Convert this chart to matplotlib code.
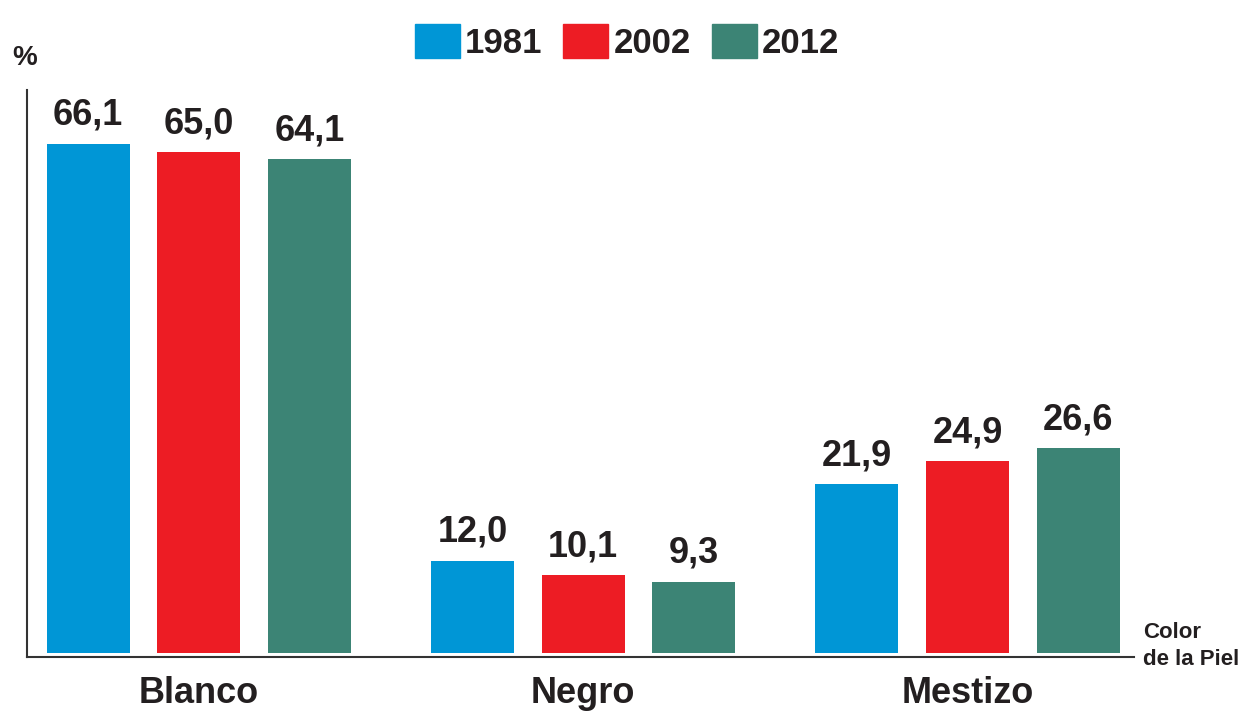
import matplotlib.pyplot as plt
import numpy as np
from matplotlib.patches import Patch

categories = ['Blanco', 'Negro', 'Mestizo']
years = ['1981', '2002', '2012']
v1981 = [66.1, 12.0, 21.9]
v2002 = [65.0, 10.1, 24.9]
v2012 = [64.1, 9.3, 26.6]
colors = ['#0096d6', '#ed1c24', '#3c8475']
ink = '#231f20'

plt.rcParams['font.family'] = ['Liberation Sans Narrow', 'Liberation Sans', 'DejaVu Sans']

fig = plt.figure(figsize=(12.48, 7.14), dpi=100)
ax = fig.add_axes([27 / 1248, 57 / 714, (1134 - 27) / 1248, (657 - 90) / 714])

x = np.arange(len(categories))
width = 0.216
offset = 0.288
for i, (vals, col) in enumerate(zip([v1981, v2002, v2012], colors)):
    pos = x + (i - 1) * offset
    bars = ax.bar(pos, vals, width=width, color=col)
    for b, v in zip(bars, vals):
        ax.annotate(f'{v:.1f}'.replace('.', ','), (b.get_x() + b.get_width() / 2, v),
                    xytext=(0, 8), textcoords='offset points', ha='center', va='bottom',
                    fontsize=26, fontweight='bold', color=ink)

ax.set_xlim(-0.447, 2.433)
ax.set_ylim(-0.5, 73.1)
ax.set_xticks(x)
ax.set_xticklabels(categories, fontsize=26, fontweight='bold', color=ink)
ax.tick_params(axis='x', length=0, pad=14)
ax.set_yticks([])
for s in ['top', 'right']:
    ax.spines[s].set_visible(False)
for s in ['left', 'bottom']:
    ax.spines[s].set_color('#333333')
    ax.spines[s].set_linewidth(1.5)

fig.text(12 / 1248, 1 - 58 / 714, '%', fontsize=20, fontweight='bold', color=ink, va='center')
fig.text(1143 / 1248, 1 - 646 / 714, 'Color\nde la Piel', fontsize=16, fontweight='bold',
         color=ink, va='center', ha='left', linespacing=1.35)

handles = [Patch(color=c) for c in colors]
fig.legend(handles, years, loc='center', bbox_to_anchor=(627 / 1248, 1 - 42 / 714), ncol=3,
           frameon=False, prop={'size': 25, 'weight': 'bold'}, handlelength=1.3,
           handleheight=1.15, handletextpad=0.15, columnspacing=0.6, labelcolor=ink)

fig.savefig('out.png', dpi=100)
